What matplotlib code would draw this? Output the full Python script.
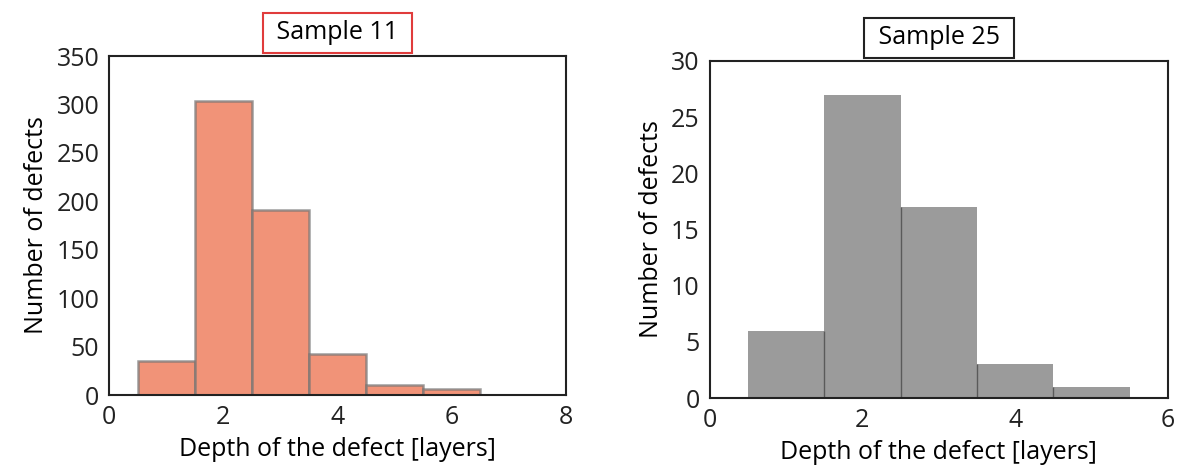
import numpy as np
import matplotlib
matplotlib.use("Agg")
import matplotlib.pyplot as plt

plt.rcParams['font.family'] = ['Open Sans', 'DejaVu Sans']

depth = np.array([1, 2, 3, 4, 5, 6])
counts_11 = [35, 304, 191, 42, 10, 6]
depth_25 = np.array([1, 2, 3, 4, 5])
counts_25 = [6, 27, 17, 3, 1]

fig = plt.figure(figsize=(11.8, 4.75), dpi=100)
ax1 = fig.add_axes([0.0924, 0.1684, 0.3873, 0.7137])
ax2 = fig.add_axes([0.6013, 0.1621, 0.3886, 0.7095])

# sample 11
ax1.bar(depth, counts_11, width=1.0, color='#f19378', edgecolor=(0.45, 0.45, 0.45, 0.7), linewidth=1.8)
ax1.set_xlim(0, 8)
ax1.set_ylim(0, 350)
ax1.set_xticks([0, 2, 4, 6, 8])
ax1.set_yticks(np.arange(0, 351, 50))
ax1.set_title(" Sample 11 ", fontsize=18, pad=12,
              bbox=dict(facecolor='white', edgecolor='#e03c3c', linewidth=1.5, boxstyle='square,pad=0.3'))

# sample 25
ax2.bar(depth_25, counts_25, width=1.0, color='#9b9b9b', edgecolor='none')
lo = np.minimum(counts_25[:-1], counts_25[1:])
ax2.vlines(depth_25[:-1] + 0.5, 0, lo, color='#5a5a5a', linewidth=1.0)
ax2.set_xlim(0, 6)
ax2.set_ylim(0, 30)
ax2.set_xticks([0, 2, 4, 6])
ax2.set_yticks(np.arange(0, 31, 5))
ax2.set_title(" Sample 25 ", fontsize=18, pad=12,
              bbox=dict(facecolor='white', edgecolor='#222222', linewidth=1.5, boxstyle='square,pad=0.3'))

for ax in (ax1, ax2):
    ax.set_xlabel("Depth of the defect [layers]", fontsize=18, labelpad=5)
    ax.set_ylabel("Number of defects", fontsize=18, labelpad=5)
    ax.tick_params(length=0, labelsize=18, pad=7, colors='#222222')
    for s in ax.spines.values():
        s.set_linewidth(1.5)
        s.set_color('#222222')

fig.savefig("out.png", dpi=100)
